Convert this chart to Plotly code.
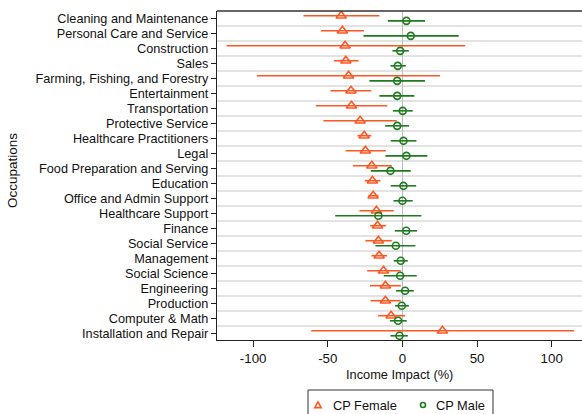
import plotly.graph_objects as go

occupations = [
    "Cleaning and Maintenance", "Personal Care and Service", "Construction", "Sales",
    "Farming, Fishing, and Forestry", "Entertainment", "Transportation", "Protective Service",
    "Healthcare Practitioners", "Legal", "Food Preparation and Serving", "Education",
    "Office and Admin Support", "Healthcare Support", "Finance", "Social Service",
    "Management", "Social Science", "Engineering", "Production", "Computer & Math",
    "Installation and Repair",
]

# Point estimates and 95% interval bounds (income impact, %)
female_est = [-41.0, -40.2, -38.4, -37.9, -36.1, -34.5, -34.1, -28.3, -25.6, -24.8, -20.5,
              -20.1, -19.6, -17.4, -16.7, -16.1, -15.6, -12.7, -11.4, -11.4, -7.6, 26.8]
female_lo = [-66.3, -54.6, -117.8, -45.9, -97.5, -48.2, -58.0, -52.9, -30.1, -38.1, -33.2,
             -25.2, -22.8, -28.8, -21.6, -24.8, -20.7, -23.6, -21.8, -21.4, -16.3, -61.1]
female_hi = [-15.4, -25.8, 42.0, -29.4, 25.2, -20.9, -10.2, -3.8, -20.9, -11.1, -7.1,
             -14.7, -16.1, -5.8, -11.1, -7.1, -10.2, -1.1, -1.1, -1.1, 1.8, 114.9]

male_est = [2.7, 5.6, -1.5, -3.1, -3.5, -3.5, 0.2, -3.5, 0.7, 2.7, -8.0,
            0.7, 0.0, -16.1, 2.5, -4.4, -1.1, -1.5, 1.8, -0.4, -2.9, -2.0]
male_lo = [-9.8, -26.1, -6.7, -8.0, -22.1, -15.4, -6.4, -11.6, -7.8, -11.4, -21.2,
           -7.8, -6.0, -45.0, -5.1, -18.1, -5.8, -12.5, -4.2, -4.9, -8.4, -8.0]
male_hi = [15.2, 37.7, 4.3, 2.3, 15.2, 8.0, 6.9, 4.5, 9.4, 16.7, 5.6,
           9.2, 6.9, 12.7, 9.8, 8.7, 3.6, 9.6, 7.6, 4.3, 2.9, 3.6]

x_ticks = [-100, -50, 0, 50, 100]
series_names = ["CP Female", "CP Male"]

ORANGE = "#FF5722"
GREEN = "#1E7B1E"
FONT = "Liberation Sans, Arial, sans-serif"

W, H = 582, 414
ML, MR, MT, MB = 217, 0, 11, 74
plot_w = W - ML - MR
plot_h = H - MT - MB


def px_x(px):
    return (px - ML) / plot_w


def px_y(py):
    return (H - MB - py) / plot_h


rows = list(range(1, len(occupations) + 1))
off = 0.17

fig = go.Figure()

fig.add_trace(go.Scatter(
    x=female_est, y=[r - off for r in rows], mode="markers", name=series_names[0],
    marker=dict(symbol="triangle-up-open", size=9, color=ORANGE, line=dict(width=1.6, color=ORANGE)),
    error_x=dict(type="data", symmetric=False,
                 array=[h - e for h, e in zip(female_hi, female_est)],
                 arrayminus=[e - l for e, l in zip(female_est, female_lo)],
                 color=ORANGE, thickness=1.6, width=0),
))

fig.add_trace(go.Scatter(
    x=male_est, y=[r + off for r in rows], mode="markers", name=series_names[1],
    marker=dict(symbol="circle-open", size=7, color=GREEN, line=dict(width=1.6, color=GREEN)),
    error_x=dict(type="data", symmetric=False,
                 array=[h - e for h, e in zip(male_hi, male_est)],
                 arrayminus=[e - l for e, l in zip(male_est, male_lo)],
                 color=GREEN, thickness=1.6, width=0),
))

# Legend box below the axis, drawn as a framed key that runs off the bottom edge
leg_y = px_y(405)
shapes = [
    dict(type="line", xref="paper", yref="paper", x0=0, x1=1, y0=1, y1=1,
         line=dict(color="#333333", width=1.5)),
    dict(type="rect", xref="paper", yref="paper",
         x0=px_x(308), x1=px_x(493), y0=px_y(390), y1=px_y(430),
         line=dict(color="#333333", width=1), fillcolor="white", layer="above"),
    dict(type="path", xref="paper", yref="paper", xsizemode="pixel", ysizemode="pixel",
         xanchor=px_x(318), yanchor=leg_y,
         path="M -3.2,-2.6 L 3.2,-2.6 L 0,3.2 Z",
         line=dict(color=ORANGE, width=1.6), fillcolor="rgba(0,0,0,0)", layer="above"),
    dict(type="circle", xref="paper", yref="paper", xsizemode="pixel", ysizemode="pixel",
         xanchor=px_x(423), yanchor=leg_y, x0=-2.5, x1=2.5, y0=-2.5, y1=2.5,
         line=dict(color=GREEN, width=1.6), fillcolor="rgba(0,0,0,0)", layer="above"),
]

annotations = [
    dict(text="Income Impact (%)", x=0.5, xref="paper", y=px_y(374), yref="paper",
         xanchor="center", yanchor="middle", showarrow=False, font=dict(size=12.8)),
    dict(text="Occupations", x=px_x(13), xref="paper", y=px_y(171), yref="paper",
         xanchor="center", yanchor="middle", showarrow=False, textangle=-90,
         font=dict(size=13.5)),
    dict(text=series_names[0], x=px_x(331), xref="paper", y=leg_y, yref="paper",
         xanchor="left", yanchor="middle", showarrow=False, font=dict(size=12.8)),
    dict(text=series_names[1], x=px_x(434), xref="paper", y=leg_y, yref="paper",
         xanchor="left", yanchor="middle", showarrow=False, font=dict(size=12.8)),
]

fig.update_layout(
    width=W, height=H,
    margin=dict(l=ML, r=MR, t=MT, b=MB),
    paper_bgcolor="white", plot_bgcolor="white",
    font=dict(family=FONT, size=12.7, color="#111111"),
    showlegend=False,
    xaxis=dict(
        range=[-124.2, 120.3], tickvals=x_ticks, ticktext=[str(v) for v in x_ticks],
        showgrid=False, zeroline=True, zerolinecolor="#BDBDBD", zerolinewidth=1,
        showline=True, linecolor="#222222", linewidth=1.3, mirror=False,
        ticks="outside", ticklen=6, tickcolor="#222222",
        tickfont=dict(size=13.3),
    ),
    yaxis=dict(
        range=[22.45, 0.513], tickvals=rows, ticktext=occupations,
        showgrid=False, zeroline=False,
        showline=True, linecolor="#222222", linewidth=1.3,
        ticks="outside", ticklen=5, tickcolor="#222222",
        minor=dict(tick0=0.5, dtick=1, showgrid=True, gridcolor="#E3E3E3", gridwidth=1.5, ticks=""),
    ),
    annotations=annotations,
    shapes=shapes,
)

fig.write_html("out.html")
